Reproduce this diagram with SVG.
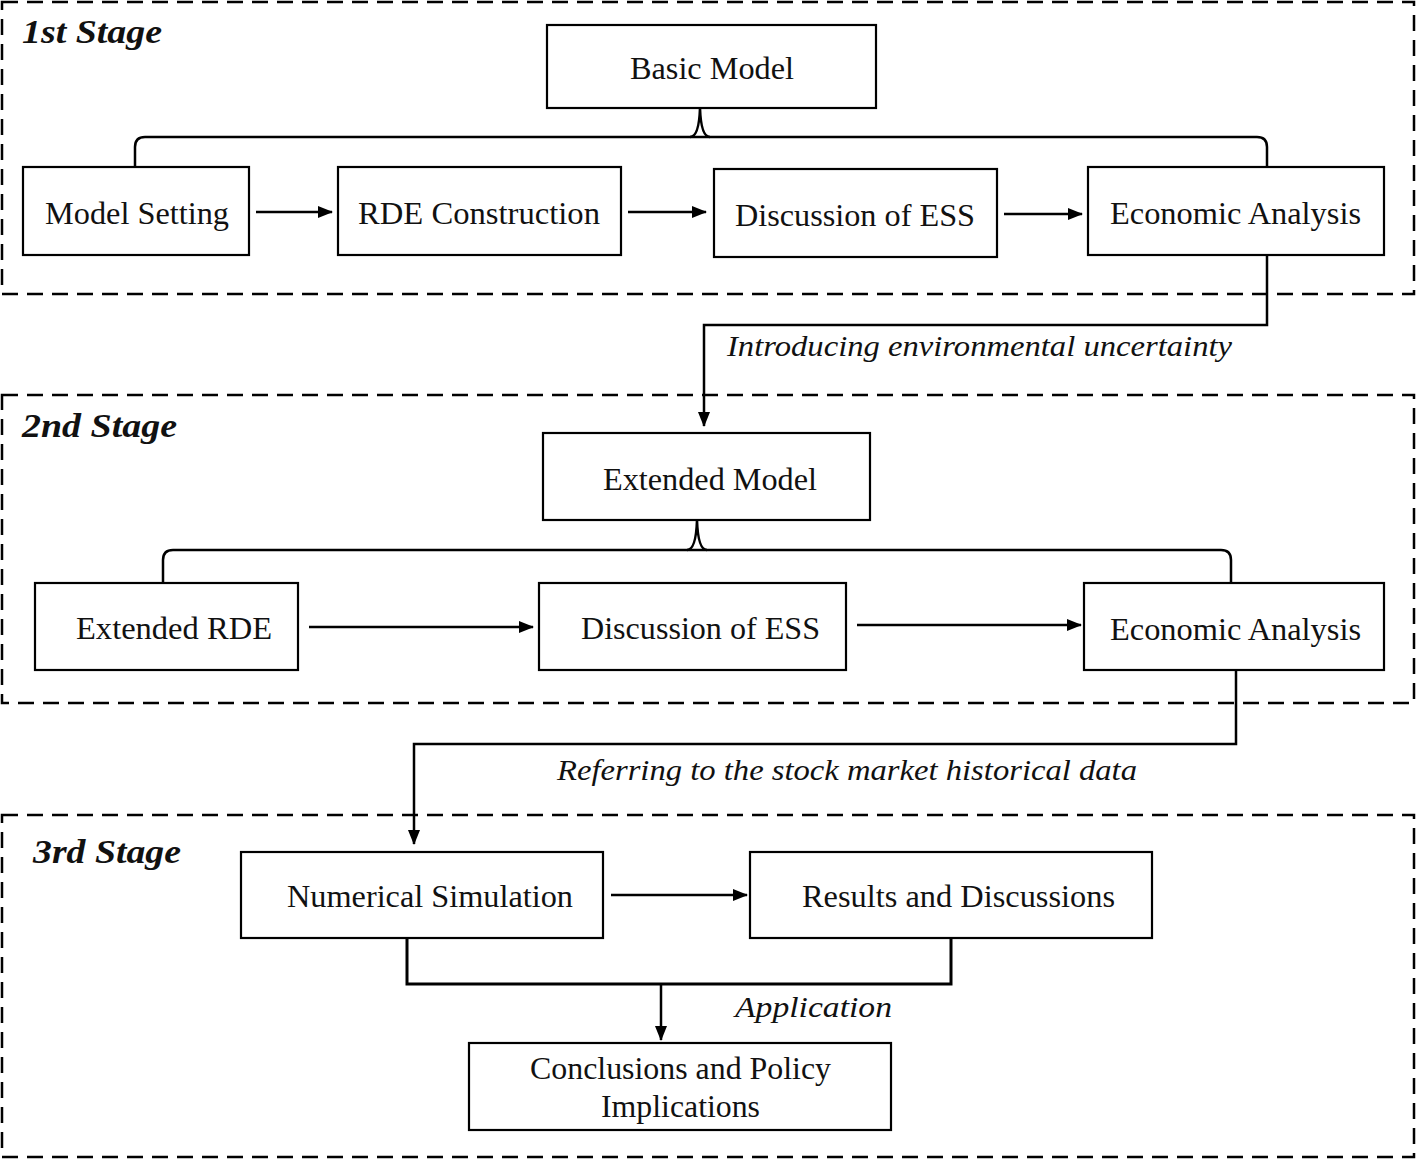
<svg xmlns="http://www.w3.org/2000/svg" width="1416" height="1159" viewBox="0 0 1416 1159">
<defs>
<marker id="ah" markerWidth="15" markerHeight="12" refX="14" refY="6" orient="auto" markerUnits="userSpaceOnUse" viewBox="0 0 15 12">
<path d="M0,0 L15,6 L0,12 Z" fill="#000"/>
</marker>
<style>
.stage{fill:none;stroke:#000;stroke-width:2.5;stroke-dasharray:16 9}
.box{fill:#fff;stroke:#000;stroke-width:2.2}
.t{font-family:'Liberation Serif','Times New Roman',Times,serif;font-size:32px;fill:#111}
.it{font-family:'Liberation Serif','Times New Roman',Times,serif;font-size:30px;font-style:italic;fill:#111}
.st{font-family:'Liberation Serif','Times New Roman',Times,serif;font-size:33px;font-style:italic;font-weight:bold;fill:#111}
.c{fill:none;stroke:#000;stroke-width:2.5}
.a{fill:none;stroke:#000;stroke-width:2.5;marker-end:url(#ah)}
</style>
</defs>
<rect width="1416" height="1159" fill="#fff"/>
<g id="stages">
<rect class="stage" x="2" y="2" width="1412" height="292"/>
<rect class="stage" x="2" y="395" width="1412" height="308"/>
<rect class="stage" x="2" y="815" width="1412" height="342"/>
<text class="st" x="22" y="43" textLength="140" lengthAdjust="spacingAndGlyphs">1st Stage</text>
<text class="st" x="22" y="437" textLength="155" lengthAdjust="spacingAndGlyphs">2nd Stage</text>
<text class="st" x="33" y="863" textLength="148" lengthAdjust="spacingAndGlyphs">3rd Stage</text>
</g>
<g id="connectors">
<path class="c" d="M135,167 V147 Q135,137 145,137 H1257 Q1267,137 1267,147 V167"/>
<path class="c" d="M690,137 Q699,137 700,108 Q701,137 710,137"/>
<line class="a" x1="256" y1="212" x2="332" y2="212"/>
<line class="a" x1="628" y1="212" x2="706" y2="212"/>
<line class="a" x1="1004" y1="214" x2="1082" y2="214"/>
<path class="a" d="M1267,255 V325 H704 V426"/>
<text class="it" x="727" y="356" textLength="505" lengthAdjust="spacingAndGlyphs">Introducing environmental uncertainty</text>
<path class="c" d="M163,583 V560 Q163,550 173,550 H1221 Q1231,550 1231,560 V583"/>
<path class="c" d="M687,550 Q696,550 697,520 Q698,550 707,550"/>
<line class="a" x1="309" y1="627" x2="533" y2="627"/>
<line class="a" x1="857" y1="625" x2="1081" y2="625"/>
<path class="a" d="M1236,670 V744 H414 V844"/>
<text class="it" x="557" y="780" textLength="580" lengthAdjust="spacingAndGlyphs">Referring to the stock market historical data</text>
<line class="a" x1="611" y1="895" x2="747" y2="895"/>
<path class="c" d="M407,938 V984 H951 V938" style="stroke-width:3"/>
<line class="a" x1="661" y1="984" x2="661" y2="1040"/>
<text class="it" x="735" y="1017" textLength="157" lengthAdjust="spacingAndGlyphs">Application</text>
</g>
<g id="basic-model"><rect class="box" x="547" y="25" width="329" height="83"/><text class="t" x="630" y="79" textLength="164" lengthAdjust="spacingAndGlyphs">Basic Model</text></g>
<g id="model-setting"><rect class="box" x="23" y="167" width="226" height="88"/><text class="t" x="45" y="224" textLength="184" lengthAdjust="spacingAndGlyphs">Model Setting</text></g>
<g id="rde-construction"><rect class="box" x="338" y="167" width="283" height="88"/><text class="t" x="358" y="224" textLength="242" lengthAdjust="spacingAndGlyphs">RDE Construction</text></g>
<g id="discussion-ess-1"><rect class="box" x="714" y="169" width="283" height="88"/><text class="t" x="735" y="226" textLength="240" lengthAdjust="spacingAndGlyphs">Discussion of ESS</text></g>
<g id="economic-analysis-1"><rect class="box" x="1088" y="167" width="296" height="88"/><text class="t" x="1110" y="224" textLength="251" lengthAdjust="spacingAndGlyphs">Economic Analysis</text></g>
<g id="extended-model"><rect class="box" x="543" y="433" width="327" height="87"/><text class="t" x="603" y="490" textLength="214" lengthAdjust="spacingAndGlyphs">Extended Model</text></g>
<g id="extended-rde"><rect class="box" x="35" y="583" width="263" height="87"/><text class="t" x="76" y="639" textLength="196" lengthAdjust="spacingAndGlyphs">Extended RDE</text></g>
<g id="discussion-ess-2"><rect class="box" x="539" y="583" width="307" height="87"/><text class="t" x="581" y="639" textLength="239" lengthAdjust="spacingAndGlyphs">Discussion of ESS</text></g>
<g id="economic-analysis-2"><rect class="box" x="1084" y="583" width="300" height="87"/><text class="t" x="1110" y="640" textLength="251" lengthAdjust="spacingAndGlyphs">Economic Analysis</text></g>
<g id="numerical-simulation"><rect class="box" x="241" y="852" width="362" height="86"/><text class="t" x="287" y="907" textLength="286" lengthAdjust="spacingAndGlyphs">Numerical  Simulation</text></g>
<g id="results-discussions"><rect class="box" x="750" y="852" width="402" height="86"/><text class="t" x="802" y="907" textLength="313" lengthAdjust="spacingAndGlyphs">Results and Discussions</text></g>
<g id="conclusions"><rect class="box" x="469" y="1043" width="422" height="87"/><text class="t" x="530" y="1079" textLength="301" lengthAdjust="spacingAndGlyphs">Conclusions and Policy</text><text class="t" x="601" y="1117" textLength="159" lengthAdjust="spacingAndGlyphs">Implications</text></g>
</svg>
